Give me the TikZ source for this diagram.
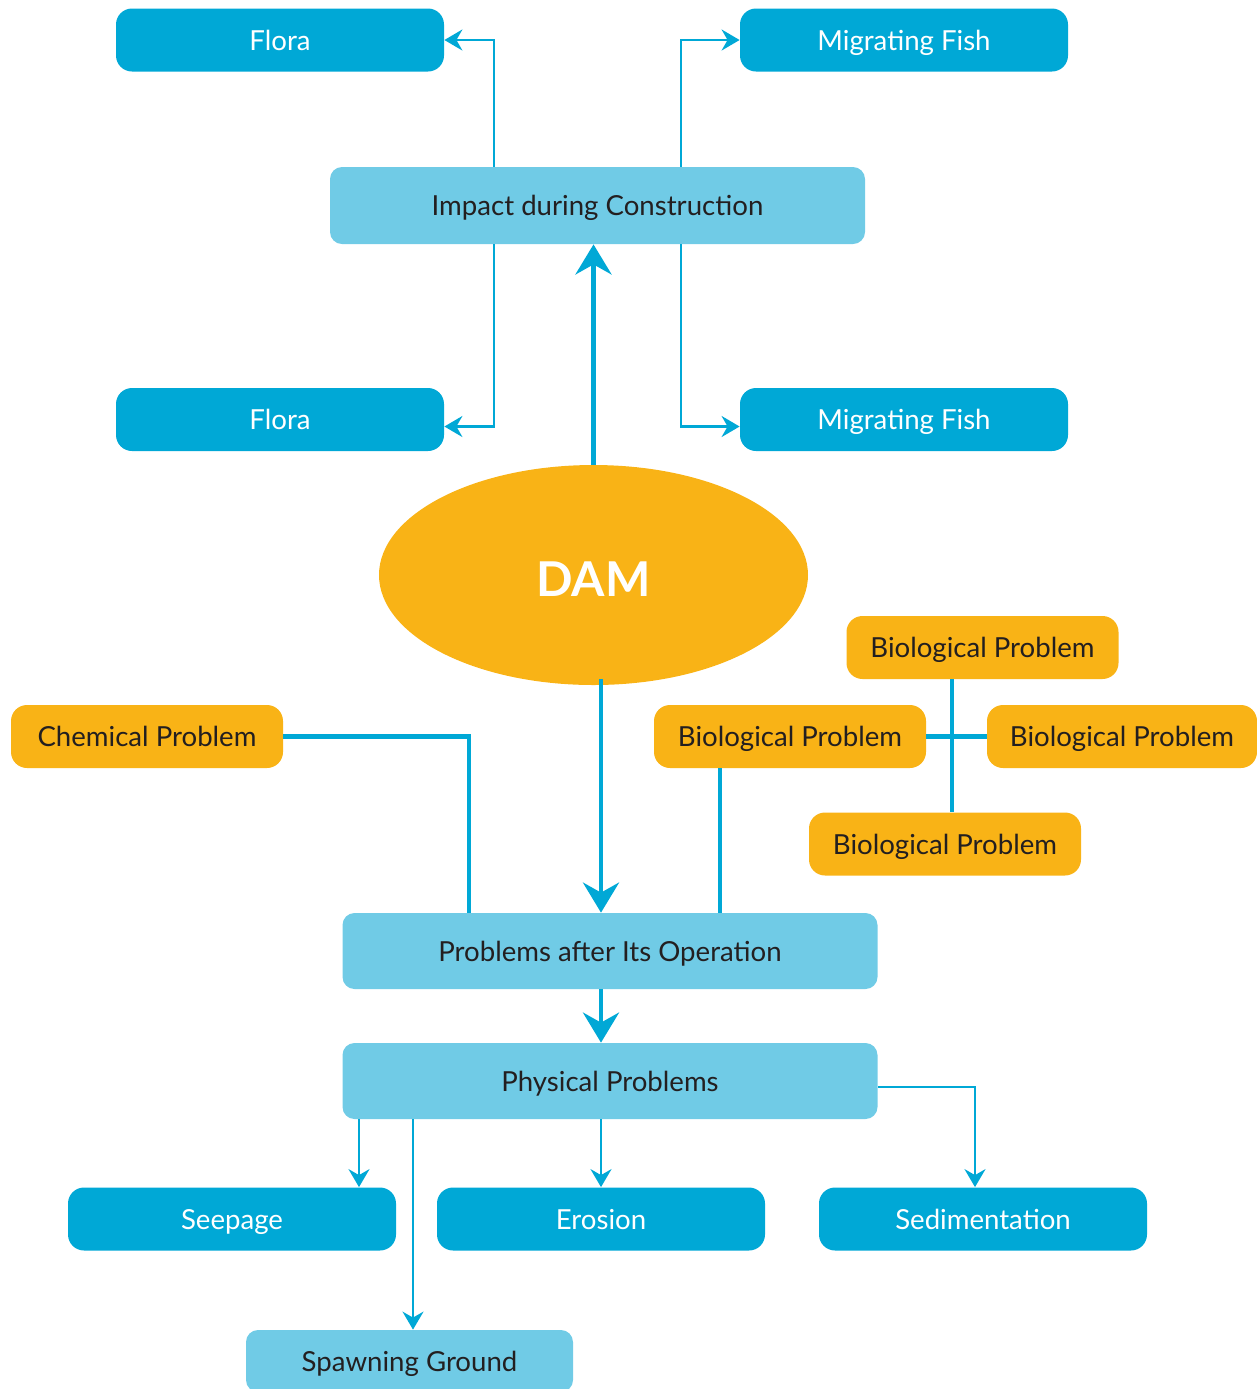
\documentclass[tikz,border=0pt]{standalone}
\usepackage{fontspec}
\setmainfont{Lato}
\usepackage{xcolor}
\usetikzlibrary{arrows.meta,shapes.geometric,positioning}
\definecolor{damblue}{RGB}{0,168,214}
\definecolor{damlight}{RGB}{112,203,230}
\definecolor{damorange}{RGB}{249,179,22}
\definecolor{damtext}{RGB}{35,31,32}
\tikzset{
  boxfont/.style={font=\fontsize{13.8}{16}\selectfont, text height=13pt, text depth=3pt},
  darkbox/.style={
    rectangle,
    rounded corners=8pt,
    fill=damblue,
    text=white,
    inner sep=0pt,
    minimum width=164pt,
    minimum height=31.5pt,
    boxfont},
  lightbox/.style={
    rectangle,
    rounded corners=6pt,
    fill=damlight,
    text=damtext,
    inner sep=0pt,
    minimum width=267.5pt,
    minimum height=38.5pt,
    boxfont},
  orangebox/.style={
    rectangle,
    rounded corners=8pt,
    fill=damorange,
    text=damtext,
    inner sep=0pt,
    minimum width=136pt,
    minimum height=31.5pt,
    boxfont},
  thinarrow/.style={draw=damblue, line width=1.2pt, -{Stealth[length=9pt,width=10.5pt,inset=3pt]}},
  thickarrow/.style={draw=damblue, line width=2.4pt, -{Stealth[length=15pt,width=18pt,inset=5pt]}},
  thickline/.style={draw=damblue, line width=2.4pt},
}
\begin{document}
\begin{tikzpicture}[x=0.5pt, y=-0.5pt]
    \clip (0,0) rectangle (1257,1389);
    \useasboundingbox (0,0) rectangle (1257,1389);

    % construction branch
    \node[darkbox] (floraA) at (280,40) {Flora};
    \node[darkbox] (fishA) at (904,40) {Migrating Fish};
    \node[lightbox] (impact) at (597.5,205.5) {Impact during Construction};
    \node[darkbox] (floraB) at (280,419.5) {Flora};
    \node[darkbox] (fishB) at (904,419.5) {Migrating Fish};

    \node[ellipse, fill=damorange, text=white, inner sep=0pt,
          minimum width=214.5pt, minimum height=110pt,
          text height=21pt, text depth=0pt,
          font=\fontsize{24}{28}\selectfont\bfseries] (dam) at (593.5,575) {DAM};

    % problem boxes
    \node[orangebox] (chem) at (147,736.5) {Chemical Problem};
    \node[orangebox] (bioL) at (790,736.5) {Biological Problem};
    \node[orangebox] (bioT) at (982.5,647.5) {Biological Problem};
    \node[orangebox, minimum width=135pt] (bioR) at (1122,736.5) {Biological Problem};
    \node[orangebox] (bioB) at (945,844) {Biological Problem};

    \node[lightbox, minimum height=38pt] (problems) at (610,951) {Problems after Its Operation};
    \node[lightbox, minimum height=38pt] (physical) at (610,1081) {Physical Problems};

    \node[darkbox] (seepage) at (232,1219) {Seepage};
    \node[darkbox] (erosion) at (601,1219) {Erosion};
    \node[darkbox] (sedim) at (983,1219) {Sedimentation};
    \node[lightbox, minimum width=163.5pt, minimum height=31pt] (spawn) at (409.5,1361) {Spawning Ground};

    % x positions of the connectors
    \coordinate (xl) at (494,0);
    \coordinate (xr) at (681,0);
    \coordinate (xm) at (601,0);
    \coordinate (xc) at (469,0);
    \coordinate (xb) at (720,0);
    \coordinate (xv) at (952,0);
    \coordinate (xs) at (359,0);
    \coordinate (xg) at (413,0);
    \coordinate (xd) at (975,0);

    \draw[thinarrow] (impact.north -| xl) |- (floraA);
    \draw[thinarrow] (impact.north -| xr) |- (fishA);
    \draw[thinarrow] (impact.south -| xl) |- ([yshift=-3.5pt]floraB.east);
    \draw[thinarrow] (impact.south -| xr) |- ([yshift=-3.5pt]fishB.west);

    \draw[thickarrow] (dam.north) -- (dam.north |- impact.south);
    \draw[thickarrow] ([yshift=3pt]xm |- dam.south) -- (xm |- problems.north);

    \draw[thickline] (chem.east) -| (xc |- problems.north);
    \draw[thickline] (bioL.south -| xb) -- (xb |- problems.north);
    \draw[thickline] (bioT.south -| xv) -- (xv |- bioB.north);
    \draw[thickline] (bioL.east) -- (bioR.west);

    \draw[thickarrow] (xm |- problems.south) -- (xm |- physical.north);

    \draw[thinarrow] (physical.south -| xs) -- (xs |- seepage.north);
    \draw[thinarrow] (physical.south -| xg) -- (xg |- spawn.north);
    \draw[thinarrow] (physical.south -| xm) -- (xm |- erosion.north);
    \draw[thinarrow] ([yshift=-3pt]physical.east) -| (xd |- sedim.north);

\end{tikzpicture}
\end{document}
